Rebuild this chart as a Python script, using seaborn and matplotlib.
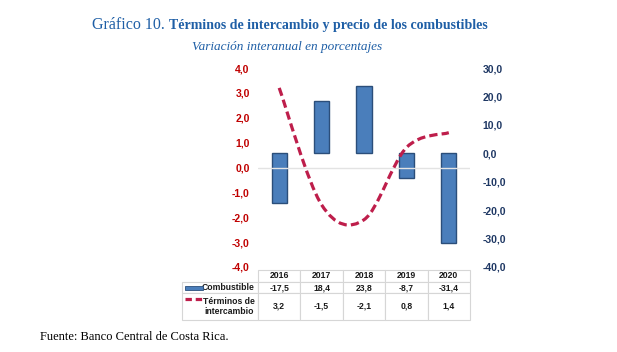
import numpy as np
import matplotlib.pyplot as plt
import seaborn as sns
from matplotlib.path import Path
from matplotlib.patches import PathPatch, Rectangle
from matplotlib.lines import Line2D
from matplotlib.ticker import FuncFormatter, MultipleLocator

years = ["2016", "2017", "2018", "2019", "2020"]
combustible = [-17.5, 18.4, 23.8, -8.7, -31.4]
terminos = [3.2, -1.5, -2.1, 0.8, 1.4]
row_labels = ["Combustible", "Términos de\nintercambio"]

bar_color = "#4A7EBB"
bar_edge = "#2B4E7A"
line_color = "#BE1E4B"
title_color = "#1F5FA6"


def fmt(v):
    return f"{v:.1f}".replace(".", ",")


def smooth_path(xs, ys):
    # bezier curve through the points (Excel style smoothed line)
    pts = np.column_stack([xs, ys]).astype(float)
    n = len(pts)
    verts = [pts[0]]
    codes = [Path.MOVETO]
    for i in range(n - 1):
        p0 = pts[i - 1] if i > 0 else pts[i]
        p1 = pts[i]
        p2 = pts[i + 1]
        p3 = pts[i + 2] if i + 2 < n else pts[i + 1]
        verts += [p1 + (p2 - p0) / 6, p2 - (p3 - p1) / 6, p2]
        codes += [Path.CURVE4] * 3
    return Path(verts, codes)


sns.set_theme(style="white")
plt.rcParams["font.family"] = ["Liberation Sans", "DejaVu Sans"]

fig = plt.figure(figsize=(6.17, 3.52), dpi=100)
W, H = 617, 352
ax = fig.add_axes([258 / W, 1 - 267 / H, 212 / W, 199 / H])

# bars on the right-hand scale
sns.barplot(x=years, y=combustible, ax=ax, color=bar_color, edgecolor=bar_edge,
            linewidth=1, width=0.36, saturation=1)
ax.set_xlabel("")
ax.set_ylabel("")
ax.set_xticks([])
ax.set_xlim(-0.5, 4.5)

# line on the left-hand scale
ax2 = ax.twinx()
ax.yaxis.tick_right()
ax2.yaxis.tick_left()

ax.set_ylim(-40, 30)
ax.yaxis.set_major_locator(MultipleLocator(10))
ax.yaxis.set_major_formatter(FuncFormatter(lambda v, p: fmt(v)))
ax.tick_params(axis="y", length=0, pad=9, labelsize=7.5, labelcolor="#1F3864")
for lab in ax.get_yticklabels():
    lab.set_fontweight("bold")

ax2.set_ylim(-4, 4)
ax2.yaxis.set_major_locator(MultipleLocator(1))
ax2.yaxis.set_major_formatter(FuncFormatter(lambda v, p: fmt(v)))
ax2.tick_params(axis="y", length=0, pad=6, labelsize=7.5, labelcolor="#C00000")
for lab in ax2.get_yticklabels():
    lab.set_fontweight("bold")
ax2.axhline(0, color="#E3E3E3", lw=1, zorder=0)
path = smooth_path(np.arange(len(years)), terminos)
ax2.add_patch(PathPatch(path, fill=False, edgecolor=line_color, lw=2.3,
                        linestyle=(0, (2.6, 1.3)), capstyle="butt"))
ax2.set_xlim(-0.5, 4.5)

for a in (ax, ax2):
    for s in a.spines.values():
        s.set_visible(False)

# data table under the chart, first column holds the row labels
cell_text = [[row_labels[0]] + [fmt(v) for v in combustible],
             [row_labels[1]] + [fmt(v) for v in terminos]]
tbl = ax.table(cellText=cell_text, colLabels=[""] + years, cellLoc="center",
               bbox=[(182 - 258) / 212, (267 - 320) / 199, 288 / 212, 50 / 199])
tbl.auto_set_font_size(False)
tbl.set_fontsize(6.2)
heights = {0: 12, 1: 11, 2: 27}
for (r, c), cell in tbl.get_celld().items():
    cell.set_edgecolor("#D6D6D6")
    cell.set_linewidth(0.8)
    cell.set_height(heights[r])
    cell.set_width(76 if c == 0 else 42.4)
    txt = cell.get_text()
    txt.set_fontweight("bold")
    txt.set_color("#1A1A1A")
    if c == 0:
        cell.PAD = 0.04
        txt.set_horizontalalignment("right")
        txt.set_multialignment("center")
        cell._loc = "right"
        if r == 0:
            cell.visible_edges = ""

# legend keys inside the table
fig.patches.append(Rectangle((185 / W, 1 - 290 / H), 18 / W, 4 / H,
                             transform=fig.transFigure, facecolor=bar_color,
                             edgecolor=bar_edge, lw=0.6))
fig.lines.append(Line2D([185 / W, 203 / W], [1 - 299 / H, 1 - 299 / H],
                        transform=fig.transFigure, color=line_color, lw=2.3,
                        linestyle=(0, (2.0, 1.2))))

# titles: regular part followed by bold part
t1 = fig.text(92 / W, 1 - 25 / H, "Gráfico 10.", fontsize=11.5, color=title_color,
              family="Liberation Serif", va="center", ha="left")
fig.canvas.draw()
x_end = t1.get_window_extent().x1
fig.text((x_end + 4) / W, 1 - 25 / H,
         "Términos de intercambio y precio de los combustibles",
         fontsize=10, color=title_color, family="Liberation Serif",
         fontweight="bold", va="center", ha="left")
fig.text(287 / W, 1 - 47 / H, "Variación interanual en porcentajes", fontsize=9.5,
         color=title_color, family="Liberation Serif", style="italic",
         va="center", ha="center")
fig.text(40 / W, 1 - 337 / H, "Fuente: Banco Central de Costa Rica.", fontsize=9,
         color="black", family="Liberation Serif", va="center", ha="left")

fig.savefig("out.png", dpi=100)
